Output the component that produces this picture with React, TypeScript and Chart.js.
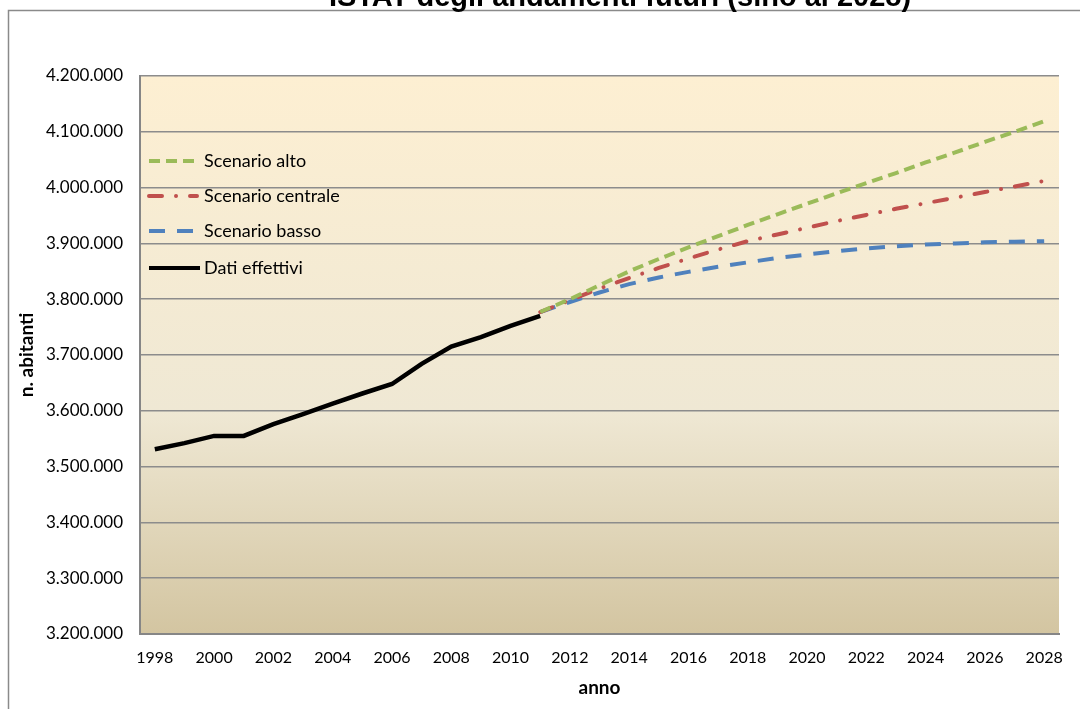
import React, { useEffect, useRef } from "react";
import { Chart, registerables } from "chart.js";

Chart.register(...registerables);

const years: string[] = [
  "1998","1999","2000","2001","2002","2003","2004","2005","2006","2007",
  "2008","2009","2010","2011","2012","2013","2014","2015","2016","2017",
  "2018","2019","2020","2021","2022","2023","2024","2025","2026","2027","2028",
];

const datiEffettivi: (number | null)[] = [
  3531000, 3542000, 3555000, 3555000, 3576000, 3594000, 3613000, 3631000, 3648000, 3684000,
  3715000, 3732000, 3752000, 3770000,
  null, null, null, null, null, null, null, null, null, null, null, null, null, null, null, null, null,
];

const pre: null[] = [null, null, null, null, null, null, null, null, null, null, null, null, null];

const scenarioAlto: (number | null)[] = [
  ...pre,
  3777000, 3800000, 3825000, 3850000, 3872000, 3893000, 3913000, 3933000, 3952000,
  3971000, 3990000, 4008000, 4026000, 4045000, 4063000, 4082000, 4100000, 4119000,
];

const scenarioCentrale: (number | null)[] = [
  ...pre,
  3777000, 3798000, 3819000, 3838000, 3856000, 3873000, 3889000, 3904000, 3916000,
  3928000, 3940000, 3951000, 3962000, 3972000, 3982000, 3992000, 4002000, 4012000,
];

const scenarioBasso: (number | null)[] = [
  ...pre,
  3777000, 3795000, 3812000, 3827000, 3839000, 3849000, 3858000, 3866000, 3874000,
  3880000, 3886000, 3891000, 3895000, 3898000, 3900000, 3902000, 3903000, 3904000,
];

const titleText = "ISTAT degli andamenti futuri (sino al 2028)";
const yTitle = "n. abitanti";
const xTitle = "anno";

const FONT = "Lato";

const legendItems = [
  { label: "Scenario alto", color: "#9BBB59", dash: [11, 6], cap: "butt" as CanvasLineCap },
  { label: "Scenario centrale", color: "#C0504D", dash: [13, 14, 0.01, 14], cap: "round" as CanvasLineCap },
  { label: "Scenario basso", color: "#4F81BD", dash: [16, 12], cap: "butt" as CanvasLineCap },
  { label: "Dati effettivi", color: "#000000", dash: [] as number[], cap: "butt" as CanvasLineCap },
];

const fmt = (v: number) => {
  const s = Math.round(v).toString();
  return s.replace(/\B(?=(\d{3})+(?!\d))/g, ".");
};

export default function App() {
  const ref = useRef<HTMLCanvasElement | null>(null);

  useEffect(() => {
    if (!ref.current) return;

    const bgPlugin = {
      id: "bg",
      beforeDraw(chart: any) {
        const { ctx, chartArea } = chart;
        const { left, top, right, bottom } = chartArea;
        ctx.save();
        const g = ctx.createLinearGradient(0, top, 0, bottom);
        g.addColorStop(0, "#FDEFD2");
        g.addColorStop(0.6, "#EFE8D4");
        g.addColorStop(1, "#D3C5A1");
        ctx.fillStyle = g;
        ctx.fillRect(left, top, right - left, bottom - top);
        ctx.restore();
      },
    };

    const framePlugin = {
      id: "frame",
      afterDraw(chart: any) {
        const { ctx } = chart;
        ctx.save();
        ctx.strokeStyle = "#8a8a8a";
        ctx.lineWidth = 1.5;
        ctx.beginPath();
        ctx.moveTo(8.5, 709);
        ctx.lineTo(8.5, 10.5);
        ctx.lineTo(1080, 10.5);
        ctx.stroke();
        ctx.fillStyle = "#000";
        ctx.font = "bold 29px 'Liberation Sans', Arial, sans-serif";
        ctx.textAlign = "center";
        ctx.textBaseline = "alphabetic";
        ctx.fillText(titleText, 620, 6);
        // legend
        const ys = [161, 196, 231, 268];
        ctx.font = `18px ${FONT}`;
        ctx.textBaseline = "middle";
        ctx.textAlign = "left";
        legendItems.forEach((it, i) => {
          const y = ys[i];
          ctx.strokeStyle = it.color;
          ctx.lineWidth = 4;
          ctx.lineCap = it.cap;
          ctx.setLineDash(it.dash);
          ctx.beginPath();
          ctx.moveTo(149, y);
          ctx.lineTo(i === 3 ? 200 : 197, y);
          ctx.stroke();
          ctx.setLineDash([]);
          ctx.fillStyle = "#000";
          ctx.fillText(it.label, 204, y);
        });
        ctx.restore();
      },
    };

    const chart = new Chart(ref.current, {
      type: "line",
      data: {
        labels: years,
        datasets: [
          {
            label: "Scenario alto",
            data: scenarioAlto,
            borderColor: "#9BBB59",
            borderWidth: 4,
            borderDash: [11, 6],
            pointRadius: 0,
            fill: false,
            tension: 0,
          },
          {
            label: "Scenario centrale",
            data: scenarioCentrale,
            borderColor: "#C0504D",
            borderWidth: 4,
            borderDash: [13, 14, 0.01, 14],
            borderCapStyle: "round",
            pointRadius: 0,
            fill: false,
            tension: 0,
          },
          {
            label: "Scenario basso",
            data: scenarioBasso,
            borderColor: "#4F81BD",
            borderWidth: 4,
            borderDash: [16, 12],
            pointRadius: 0,
            fill: false,
            tension: 0,
          },
          {
            label: "Dati effettivi",
            data: datiEffettivi,
            borderColor: "#000000",
            borderWidth: 4.5,
            pointRadius: 0,
            fill: false,
            tension: 0,
          },
        ],
      },
      options: {
        responsive: false,
        animation: false,
        devicePixelRatio: 1,
        spanGaps: false,
        layout: { padding: { left: 0, right: 21, top: 76, bottom: 0 } },
        plugins: {
          legend: { display: false },
          title: { display: false },
          tooltip: { enabled: false },
        },
        scales: {
          x: {
            type: "category",
            offset: true,
            grid: { display: false, drawTicks: false },
            border: { display: true, color: "#868686", width: 2 },
            afterFit(scale: any) {
              scale.height = 75;
            },
            ticks: {
              autoSkip: false,
              maxRotation: 0,
              minRotation: 0,
              padding: 14,
              color: "#000",
              font: { family: FONT, size: 16 },
              callback: (_v: any, i: number) => (i % 2 === 0 ? years[i] : ""),
            },
            title: {
              display: true,
              text: xTitle,
              color: "#000",
              font: { family: FONT, size: 19, weight: "bold" },
              padding: { top: 0, bottom: 10 },
            },
          },
          y: {
            min: 3200000,
            max: 4200000,
            afterFit(scale: any) {
              scale.width = 140;
            },
            grid: { display: true, color: "#8c8c8c", lineWidth: 1.5, drawTicks: false },
            border: { display: true, color: "#868686", width: 2 },
            ticks: {
              stepSize: 100000,
              padding: 17,
              color: "#000",
              font: { family: FONT, size: 17 },
              callback: (v: any) => fmt(Number(v)),
            },
            title: {
              display: true,
              text: yTitle,
              color: "#000",
              font: { family: FONT, size: 19, weight: "bold" },
              padding: { top: 15, bottom: 0 },
            },
          },
        },
      },
      plugins: [bgPlugin, framePlugin],
    } as any);

    return () => chart.destroy();
  }, []);

  return (
    <div style={{ position: "absolute", left: 0, top: 0, width: 1080, height: 709 }}>
      <canvas ref={ref} width={1080} height={709} style={{ display: "block" }} />
    </div>
  );
}
